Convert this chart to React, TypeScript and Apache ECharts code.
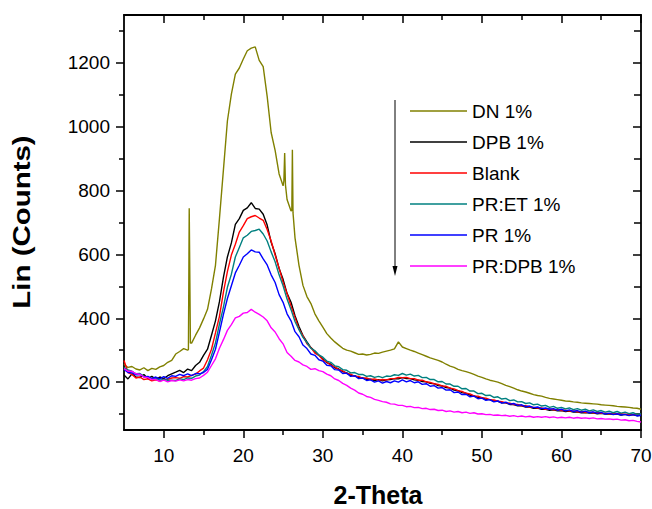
import React, { useEffect, useRef } from "react";
import * as echarts from "echarts";

// 2-Theta grid (degrees), 0.5° step from 5 to 70
const thetaStart = 5;
const thetaStep = 0.5;
const thetaCount = 131;

const seriesNames = ["DN 1%", "DPB 1%", "Blank", "PR:ET 1%", "PR 1%", "PR:DPB 1%"];
const seriesColors = ["#808000", "#000000", "#FF0000", "#008080", "#0000FF", "#FF00FF"];

const dnCounts = [
  256, 246, 249, 241, 238, 245, 236, 243, 240, 248,
  252, 262, 268, 288, 296, 305, 300, 322, 347, 370,
  398, 428, 492, 566, 712, 865, 1018, 1102, 1165, 1184,
  1212, 1238, 1246, 1250, 1208, 1188, 1095, 982, 926, 852,
  815, 772, 736, 652, 566, 503, 468, 446, 414, 392,
  372, 352, 338, 326, 316, 306, 300, 297, 292, 287,
  288, 285, 287, 291, 290, 294, 297, 300, 304, 326,
  310, 305, 300, 296, 291, 286, 281, 276, 272, 268,
  263, 256, 250, 246, 240, 236, 233, 229, 224, 219,
  215, 210, 206, 203, 200, 195, 190, 186, 181, 176,
  172, 169, 165, 161, 158, 156, 152, 149, 147, 145,
  143, 141, 140, 138, 137, 135, 134, 133, 132, 131,
  129, 128, 127, 126, 124, 123, 122, 121, 119, 118,
  115,
];
const dnSpikeTheta = [13.1, 13.2, 13.35, 25.1, 25.2, 25.3, 26.1, 26.17, 26.25];
const dnSpikeCounts = [302, 745, 322, 830, 918, 818, 738, 928, 730];

const dpbCounts = [
  222, 210, 226, 216, 214, 224, 211, 218, 209, 216,
  211, 220, 226, 231, 237, 230, 241, 236, 252, 262,
  284, 303, 347, 392, 452, 528, 592, 636, 694, 712,
  738, 746, 762, 744, 742, 726, 692, 638, 602, 556,
  522, 478, 450, 408, 374, 346, 326, 308, 297, 284,
  273, 261, 256, 245, 241, 233, 229, 221, 220, 215,
  213, 209, 209, 205, 208, 204, 207, 208, 211, 210,
  214, 211, 211, 207, 206, 202, 201, 196, 195, 189,
  188, 183, 181, 175, 173, 167, 165, 159, 157, 152,
  151, 146, 145, 140, 140, 135, 135, 130, 130, 126,
  126, 122, 122, 118, 119, 115, 115, 112, 113, 110,
  111, 108, 109, 106, 107, 104, 105, 103, 104, 101,
  102, 100, 101, 99, 100, 97, 99, 96, 98, 95,
  96,
];

const blankCounts = [
  268, 230, 224, 213, 216, 208, 210, 204, 207, 203,
  208, 209, 213, 214, 212, 217, 216, 221, 225, 235,
  244, 270, 303, 354, 406, 482, 546, 598, 632, 670,
  690, 712, 718, 722, 714, 707, 678, 642, 598, 557,
  513, 477, 438, 402, 366, 345, 320, 308, 291, 284,
  270, 263, 253, 248, 239, 235, 227, 225, 218, 218,
  212, 213, 208, 210, 206, 208, 207, 211, 211, 215,
  214, 215, 211, 211, 206, 206, 201, 199, 195, 193,
  188, 187, 181, 179, 173, 171, 165, 163, 157, 156,
  151, 150, 145, 144, 140, 139, 135, 134, 130, 130,
  126, 126, 122, 121, 119, 119, 115, 116, 113, 114,
  111, 112, 109, 110, 107, 108, 105, 106, 104, 105,
  102, 103, 101, 102, 100, 101, 99, 100, 98, 99,
  97,
];

const pretCounts = [
  246, 238, 234, 226, 227, 218, 216, 210, 212, 206,
  208, 206, 206, 205, 210, 208, 213, 212, 219, 222,
  233, 249, 284, 323, 382, 435, 497, 538, 592, 622,
  652, 660, 672, 675, 679, 664, 642, 608, 577, 536,
  502, 460, 427, 390, 364, 340, 324, 306, 298, 285,
  278, 266, 262, 251, 248, 239, 237, 229, 230, 224,
  224, 218, 220, 215, 218, 214, 219, 218, 223, 221,
  227, 222, 225, 219, 221, 214, 215, 208, 208, 201,
  202, 194, 194, 187, 187, 179, 180, 172, 172, 164,
  165, 158, 159, 152, 154, 147, 149, 142, 144, 138,
  139, 133, 135, 129, 131, 125, 127, 121, 124, 118,
  121, 116, 119, 114, 117, 112, 115, 110, 113, 108,
  111, 106, 109, 104, 108, 103, 106, 101, 104, 99,
  101,
];

const prCounts = [
  240, 230, 229, 223, 224, 216, 218, 211, 216, 210,
  217, 212, 220, 218, 224, 220, 226, 220, 227, 226,
  230, 240, 270, 303, 357, 412, 462, 502, 542, 566,
  592, 602, 614, 608, 607, 586, 567, 536, 512, 474,
  450, 414, 392, 358, 342, 316, 305, 288, 284, 270,
  266, 253, 251, 239, 238, 227, 228, 218, 220, 211,
  213, 205, 207, 200, 204, 197, 202, 198, 204, 200,
  207, 201, 205, 198, 201, 193, 195, 187, 189, 181,
  183, 175, 176, 167, 169, 161, 162, 154, 156, 148,
  150, 143, 145, 138, 141, 134, 137, 131, 133, 127,
  129, 123, 125, 120, 122, 117, 119, 115, 117, 112,
  115, 110, 113, 108, 111, 106, 109, 104, 107, 102,
  105, 100, 103, 98, 101, 97, 99, 95, 98, 94,
  96,
];

const prdpbCounts = [
  242, 234, 234, 226, 224, 216, 214, 208, 208, 202,
  206, 201, 205, 203, 207, 204, 208, 206, 211, 213,
  221, 231, 252, 273, 306, 333, 362, 380, 401, 406,
  416, 418, 428, 419, 412, 404, 392, 370, 357, 336,
  320, 293, 281, 268, 263, 254, 249, 240, 242, 236,
  233, 225, 220, 210, 205, 196, 190, 181, 175, 166,
  162, 155, 152, 146, 143, 139, 137, 132, 131, 127,
  127, 123, 124, 120, 121, 117, 118, 114, 115, 111,
  112, 108, 110, 106, 108, 104, 106, 102, 104, 100,
  101, 98, 99, 96, 97, 95, 96, 93, 95, 92,
  94, 91, 93, 90, 92, 90, 92, 89, 91, 88,
  90, 88, 90, 87, 89, 87, 88, 86, 88, 85,
  86, 84, 85, 83, 84, 81, 82, 79, 80, 77,
  75,
];

const xMajorTicks = [10, 20, 30, 40, 50, 60, 70];
const xMinorTicks = [15, 25, 35, 45, 55, 65];
const yMajorTicks = [200, 400, 600, 800, 1000, 1200];
const yMinorTicks = [100, 300, 500, 700, 900, 1100, 1300];

const FONT = "'Liberation Sans', Arial, Helvetica, sans-serif";

export default function App() {
  const ref = useRef<HTMLDivElement>(null);

  useEffect(() => {
    document.body.style.margin = "0";
    if (!ref.current) return;
    const chart = echarts.init(ref.current, undefined, { renderer: "svg" });

    const theta = Array.from({ length: thetaCount }, (_, i) => thetaStart + i * thetaStep);
    const toPairs = (vals: number[]) => theta.map((t, i) => [t, vals[i]]);
    const dnPairs = toPairs(dnCounts)
      .concat(dnSpikeTheta.map((t, i) => [t, dnSpikeCounts[i]]))
      .sort((a, b) => a[0] - b[0]);

    const allData = [
      dnPairs,
      toPairs(dpbCounts),
      toPairs(blankCounts),
      toPairs(pretCounts),
      toPairs(prCounts),
      toPairs(prdpbCounts),
    ];

    const axisLine = { show: true, onZero: false, lineStyle: { color: "#000", width: 1.8 } };
    const noLine = { show: false, onZero: false };
    const tickStyle = { color: "#000", width: 1.5 };
    const plain = (v: number) => String(v);

    const xBase = { type: "value", min: 5, max: 70, gridIndex: 0, splitLine: { show: false } };
    const yBase = { type: "value", min: 50, max: 1350, gridIndex: 0, splitLine: { show: false } };

    chart.setOption({
      animation: false,
      backgroundColor: "#fff",
      grid: { left: 124, right: 11, top: 15, bottom: 79, containLabel: false, outerBoundsMode: "none" },
      legend: {
        show: true,
        orient: "vertical",
        left: 405,
        top: 96,
        icon: "rect",
        itemWidth: 57,
        itemHeight: 1.5,
        itemGap: 11,
        selectedMode: false,
        textStyle: { fontFamily: FONT, fontSize: 19, color: "#000", lineHeight: 20 },
        data: seriesNames,
      },
      xAxis: [
        {
          ...xBase,
          position: "bottom",
          axisLine,
          axisTick: { show: true, inside: false, length: 8, lineStyle: tickStyle, customValues: xMajorTicks },
          axisLabel: { show: true, margin: 16, fontFamily: FONT, fontSize: 19, color: "#000", formatter: plain, customValues: xMajorTicks },
        },
        {
          ...xBase,
          position: "bottom",
          axisLine: noLine,
          axisTick: { show: true, inside: false, length: 5, lineStyle: tickStyle, customValues: xMinorTicks },
          axisLabel: { show: false },
        },
        {
          ...xBase,
          position: "top",
          axisLine,
          axisTick: { show: true, inside: true, length: 8, lineStyle: tickStyle, customValues: xMajorTicks },
          axisLabel: { show: false },
        },
        {
          ...xBase,
          position: "top",
          axisLine: noLine,
          axisTick: { show: true, inside: true, length: 5, lineStyle: tickStyle, customValues: xMinorTicks },
          axisLabel: { show: false },
        },
      ],
      yAxis: [
        {
          ...yBase,
          position: "left",
          axisLine,
          axisTick: { show: true, inside: false, length: 8, lineStyle: tickStyle, customValues: yMajorTicks },
          axisLabel: { show: true, margin: 14, fontFamily: FONT, fontSize: 19, color: "#000", formatter: plain, customValues: yMajorTicks },
        },
        {
          ...yBase,
          position: "left",
          axisLine: noLine,
          axisTick: { show: true, inside: false, length: 5, lineStyle: tickStyle, customValues: yMinorTicks },
          axisLabel: { show: false },
        },
        {
          ...yBase,
          position: "right",
          axisLine,
          axisTick: { show: true, inside: true, length: 8, lineStyle: tickStyle, customValues: yMajorTicks },
          axisLabel: { show: false },
        },
        {
          ...yBase,
          position: "right",
          axisLine: noLine,
          axisTick: { show: true, inside: true, length: 7, lineStyle: tickStyle, customValues: yMinorTicks },
          axisLabel: { show: false },
        },
      ],
      series: seriesNames.map((name, i) => ({
        name,
        type: "line",
        xAxisIndex: 0,
        yAxisIndex: 0,
        data: allData[i],
        showSymbol: false,
        symbol: "none",
        silent: true,
        color: seriesColors[i],
        lineStyle: { color: seriesColors[i], width: 1.4 },
        z: 2 + i,
      })),
      graphic: [
        {
          type: "text",
          x: 378,
          y: 495,
          style: { text: "2-Theta", font: `bold 25px ${FONT}`, fill: "#000", align: "center", verticalAlign: "middle" },
        },
        {
          type: "text",
          x: 22,
          y: 222,
          rotation: Math.PI / 2,
          scaleX: 1.28,
          style: { text: "Lin (Counts)", font: `bold 23px ${FONT}`, fill: "#000", align: "center", verticalAlign: "middle" },
        },
        {
          type: "line",
          shape: { x1: 395, y1: 100, x2: 395, y2: 270 },
          style: { stroke: "#000", lineWidth: 1 },
        },
        {
          type: "polygon",
          shape: { points: [[392.5, 266], [397.5, 266], [395, 276]] },
          style: { fill: "#000" },
        },
      ],
    });

    return () => chart.dispose();
  }, []);

  return <div ref={ref} style={{ width: 652, height: 509 }} />;
}
